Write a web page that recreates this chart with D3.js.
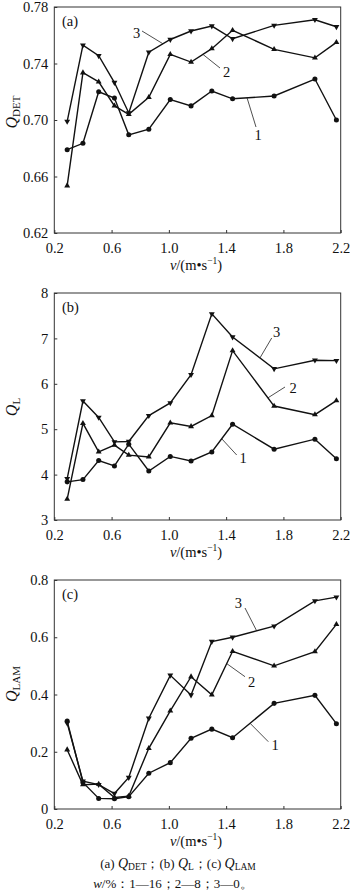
<!DOCTYPE html>
<html>
<head>
<meta charset="utf-8">
<script src="https://cdn.jsdelivr.net/npm/d3@7"></script>
<style>
  html, body { margin: 0; padding: 0; background: #fff; }
  svg { display: block; }
  text { font-family: "Liberation Serif", "Times New Roman", serif; fill: #111; }
</style>
</head>
<body>
<svg id="fig" width="350" height="894"></svg>
<script>
// Flow velocity v (m/s) shared by every curve
const velocity = [0.29, 0.40, 0.51, 0.62, 0.72, 0.86, 1.01, 1.155, 1.30, 1.445, 1.735, 2.02, 2.17];

// Curve labels: 1 — w = 16 %, 2 — w = 8 %, 3 — w = 0 %
const seriesNames = ["1", "2", "3"];

// (a) Q_DET
const detW16 = [0.679, 0.6835, 0.720, 0.7155, 0.6895, 0.6935, 0.7145, 0.710, 0.7205, 0.715, 0.717, 0.729, 0.700];
const detW8  = [0.6535, 0.7335, 0.727, 0.710, 0.704, 0.716, 0.7465, 0.741, 0.7505, 0.7635, 0.750, 0.744, 0.755];
const detW0  = [0.699, 0.753, 0.7455, 0.7265, 0.705, 0.748, 0.757, 0.763, 0.7665, 0.7575, 0.767, 0.771, 0.766];

// (b) Q_L
const lW16 = [3.84, 3.89, 4.31, 4.19, 4.67, 4.08, 4.40, 4.30, 4.50, 5.11, 4.56, 4.78, 4.35];
const lW8  = [3.46, 5.13, 4.50, 4.65, 4.43, 4.39, 5.14, 5.06, 5.30, 6.73, 5.51, 5.32, 5.63];
const lW0  = [3.91, 5.62, 5.26, 4.72, 4.73, 5.30, 5.58, 6.20, 7.54, 7.03, 6.33, 6.52, 6.51];

// (c) Q_LAM
const lamW16 = [0.307, 0.093, 0.037, 0.036, 0.043, 0.125, 0.162, 0.247, 0.279, 0.249, 0.369, 0.397, 0.298];
const lamW8  = [0.207, 0.085, 0.087, 0.040, 0.045, 0.212, 0.343, 0.462, 0.399, 0.551, 0.500, 0.550, 0.645];
const lamW0  = [0.300, 0.097, 0.085, 0.054, 0.110, 0.317, 0.467, 0.398, 0.585, 0.600, 0.639, 0.727, 0.740];

// Axis ticks
const xTicks = [0.2, 0.6, 1.0, 1.4, 1.8, 2.2];
const xTickLabels = ["0.2", "0.6", "1.0", "1.4", "1.8", "2.2"];
const detTicks = [0.62, 0.66, 0.70, 0.74, 0.78];
const detTickLabels = ["0.62", "0.66", "0.70", "0.74", "0.78"];
const lTicks = [3, 4, 5, 6, 7, 8];
const lTickLabels = ["3", "4", "5", "6", "7", "8"];
const lamTicks = [0, 0.2, 0.4, 0.6, 0.8];
const lamTickLabels = ["0", "0.2", "0.4", "0.6", "0.8"];

const svg = d3.select("#fig");
const left = 54.3, right = 340.7;

const x = d3.scaleLinear().domain([0.2, 2.2]).range([left, right]);

// panel layout and curve callouts (callout end sits on the curve at velocity `at`)
const panels = [
  { tag: "(a)", sub: "DET", top: 7, bottom: 233, domain: [0.62, 0.78],
    ticks: detTicks, tickLabels: detTickLabels, series: [detW16, detW8, detW0],
    labelY: 112,
    callouts: [
      { s: 2, tx: 136.7, ty: 38, lx: 142, ly: 31, at: 0.959 },
      { s: 1, tx: 226.7, ty: 76.5, lx: 220, ly: 68, at: 1.238 },
      { s: 0, tx: 258, ty: 140, lx: 256, ly: 127, at: 1.546 }
    ] },
  { tag: "(b)", sub: "L", top: 293, bottom: 520, domain: [3, 8],
    ticks: lTicks, tickLabels: lTickLabels, series: [lW16, lW8, lW0],
    labelY: 407,
    callouts: [
      { s: 2, tx: 276.7, ty: 336.5, lx: 271.7, ly: 338, at: 1.636 },
      { s: 1, tx: 293, ty: 393, lx: 285, ly: 387, at: 1.692 },
      { s: 0, tx: 243, ty: 463, lx: 236.7, ly: 455, at: 1.369 }
    ] },
  { tag: "(c)", sub: "LAM", top: 580, bottom: 809, domain: [0, 0.8],
    ticks: lamTicks, tickLabels: lamTickLabels, series: [lamW16, lamW8, lamW0],
    labelY: 684,
    callouts: [
      { s: 2, tx: 238.3, ty: 608, lx: 245, ly: 608, at: 1.613 },
      { s: 1, tx: 251.7, ty: 686.5, lx: 245, ly: 676.7, at: 1.404 },
      { s: 0, tx: 275, ty: 750, lx: 268.3, ly: 741.7, at: 1.567 }
    ] }
];

const markerShapes = [
  d3.symbol().type(d3.symbolCircle).size(20),
  d3.symbol().type(d3.symbolTriangle).size(15),
  d3.symbol().type(d3.symbolTriangle).size(15)
];
const markerRotate = [0, 0, 180];

// value of a polyline at velocity v
function interp(vals, v) {
  for (let i = 0; i < velocity.length - 1; i++) {
    if (v >= velocity[i] && v <= velocity[i + 1]) {
      const t = (v - velocity[i]) / (velocity[i + 1] - velocity[i]);
      return vals[i] + t * (vals[i + 1] - vals[i]);
    }
  }
  return vals[vals.length - 1];
}

panels.forEach(p => {
  const y = d3.scaleLinear().domain(p.domain).range([p.bottom, p.top]);
  const g = svg.append("g");

  // frame
  g.append("rect")
    .attr("x", left).attr("y", p.top)
    .attr("width", right - left).attr("height", p.bottom - p.top)
    .attr("fill", "none").attr("stroke", "#333").attr("stroke-width", 1);

  // x axis: inward ticks
  const xAxis = d3.axisBottom(x).tickValues(xTicks)
    .tickFormat((d, i) => xTickLabels[i]).tickSizeInner(-3).tickSizeOuter(0).tickPadding(6);
  const gx = g.append("g").attr("transform", `translate(0,${p.bottom})`).call(xAxis);
  gx.select(".domain").remove();
  gx.selectAll("line").attr("stroke", "#333");
  gx.selectAll("text").attr("font-size", 14.5).attr("fill", "#111")
    .attr("font-family", "Liberation Serif, serif").attr("dy", "0.95em");

  // y axis: inward ticks
  const yAxis = d3.axisLeft(y).tickValues(p.ticks)
    .tickFormat((d, i) => p.tickLabels[i]).tickSizeInner(-3).tickSizeOuter(0).tickPadding(6);
  const gy = g.append("g").attr("transform", `translate(${left},0)`).call(yAxis);
  gy.select(".domain").remove();
  gy.selectAll("line").attr("stroke", "#333");
  gy.selectAll("text").attr("font-size", 14.5).attr("fill", "#111")
    .attr("font-family", "Liberation Serif, serif");

  // y title: italic Q with subscript
  const yt = g.append("text")
    .attr("transform", `translate(17,${p.labelY}) rotate(-90)`)
    .attr("text-anchor", "middle");
  yt.append("tspan").attr("font-style", "italic").attr("font-size", 16).text("Q");
  yt.append("tspan").attr("font-size", 11).attr("dy", 3).text(p.sub);

  // x title
  const xt = g.append("text")
    .attr("x", 196).attr("y", p.bottom + 37)
    .attr("text-anchor", "middle").attr("font-size", 14.5);
  xt.append("tspan").attr("font-style", "italic").text("v");
  xt.append("tspan").text("/(m•s");
  xt.append("tspan").attr("font-size", 9.5).attr("dy", -6).text("−1");
  xt.append("tspan").attr("dy", 6).text(")");

  // panel tag
  g.append("text").attr("x", 62).attr("y", p.top + 19)
    .attr("font-size", 14.5).text(p.tag);

  // curves
  const line = d3.line().x((d, i) => x(velocity[i])).y(d => y(d));
  p.series.forEach((vals, si) => {
    g.append("path").datum(vals)
      .attr("d", line).attr("fill", "none")
      .attr("stroke", "#111").attr("stroke-width", 1.4)
      .attr("stroke-linejoin", "miter");
    g.selectAll(null).data(vals).enter().append("path")
      .attr("d", markerShapes[si])
      .attr("transform", (d, i) => `translate(${x(velocity[i])},${y(d)}) rotate(${markerRotate[si]})`)
      .attr("fill", "#111");
  });

  // callouts
  p.callouts.forEach(c => {
    g.append("line")
      .attr("x1", c.lx).attr("y1", c.ly)
      .attr("x2", x(c.at)).attr("y2", y(interp(p.series[c.s], c.at)))
      .attr("stroke", "#222").attr("stroke-width", 0.8);
    g.append("text").attr("x", c.tx).attr("y", c.ty)
      .attr("text-anchor", "middle").attr("font-size", 14.5)
      .text(seriesNames[c.s]);
  });
});

// caption
const cap1 = svg.append("text").attr("x", 178).attr("y", 868)
  .attr("text-anchor", "middle").attr("font-size", 13);
[["(a) ", false, false], ["Q", true, false], ["DET", false, true], ["；(b) ", false, false],
 ["Q", true, false], ["L", false, true], ["；(c) ", false, false], ["Q", true, false], ["LAM", false, true]]
  .forEach(([t, it, sub]) => {
    const ts = cap1.append("tspan").text(t);
    if (it) ts.attr("font-style", "italic").attr("font-size", 14);
    if (sub) ts.attr("font-size", 9.5).attr("dy", 2);
    else if (!it && t.startsWith("；")) ts.attr("dy", -2);
  });
// fix the dy after the last subscript is not needed; lines reset per text

const cap2 = svg.append("text").attr("x", 173).attr("y", 888)
  .attr("text-anchor", "middle").attr("font-size", 13);
cap2.append("tspan").attr("font-style", "italic").text("w");
cap2.append("tspan").text("/%：1—16；2—8；3—0。");
</script>
</body>
</html>
